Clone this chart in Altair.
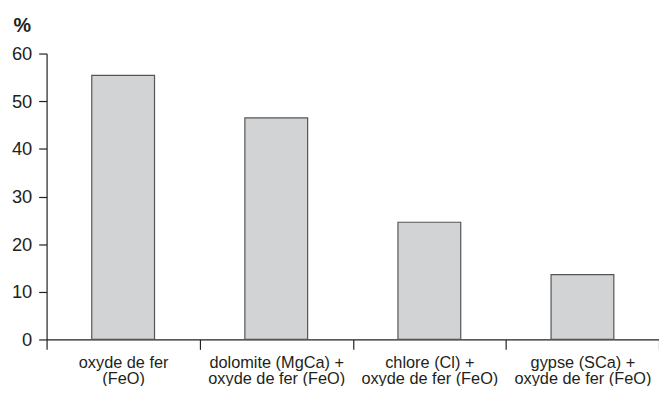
import altair as alt
import pandas as pd

categories = [
    "oxyde de fer|(FeO)",
    "dolomite (MgCa) +|oxyde de fer (FeO)",
    "chlore (Cl) +|oxyde de fer (FeO)",
    "gypse (SCa) +|oxyde de fer (FeO)",
]
values = [55.4, 46.5, 24.6, 13.6]
y_ticks = [0, 10, 20, 30, 40, 50, 60]

df = pd.DataFrame({"cat": categories, "val": values})

FONT = "Liberation Sans"
DARK = "#231f20"

chart = alt.Chart(df).mark_bar(
    fill="#d1d3d4", stroke="#555555", strokeWidth=1.2,
    width=alt.RelativeBandSize(0.41)
).encode(
    x=alt.X("cat:N", sort=categories,
            scale=alt.Scale(paddingInner=0, paddingOuter=0),
            axis=alt.Axis(title=None, labelAngle=0, tickBand="extent",
                          labelExpr="split(datum.label, '|')",
                          labelLineHeight=17, labelFontSize=16.5,
                          labelFont=FONT, labelColor=DARK,
                          tickSize=10, labelPadding=5,
                          domainColor=DARK, tickColor=DARK,
                          domainWidth=1.2, tickWidth=1.2)),
    y=alt.Y("val:Q", scale=alt.Scale(domain=[0, 60], nice=False),
            axis=alt.Axis(values=y_ticks, grid=False, title="%",
                          titleAngle=0, titleAlign="left",
                          titleBaseline="alphabetic",
                          titleX=-34, titleY=-22,
                          titleFont=FONT, titleFontSize=20,
                          titleFontWeight="bold", titleColor=DARK,
                          labelFont=FONT, labelFontSize=18.5,
                          labelColor=DARK, labelPadding=7,
                          tickSize=8, domainColor=DARK, tickColor=DARK,
                          domainWidth=1.2, tickWidth=1.2)),
).properties(
    width=619, height=289,
    autosize=alt.AutoSizeParams(type="none"),
    padding={"left": 39, "top": 44, "right": 0, "bottom": 45},
).configure_view(stroke=None)

chart.save("out.html", embed_options={"renderer": "svg", "actions": False})
